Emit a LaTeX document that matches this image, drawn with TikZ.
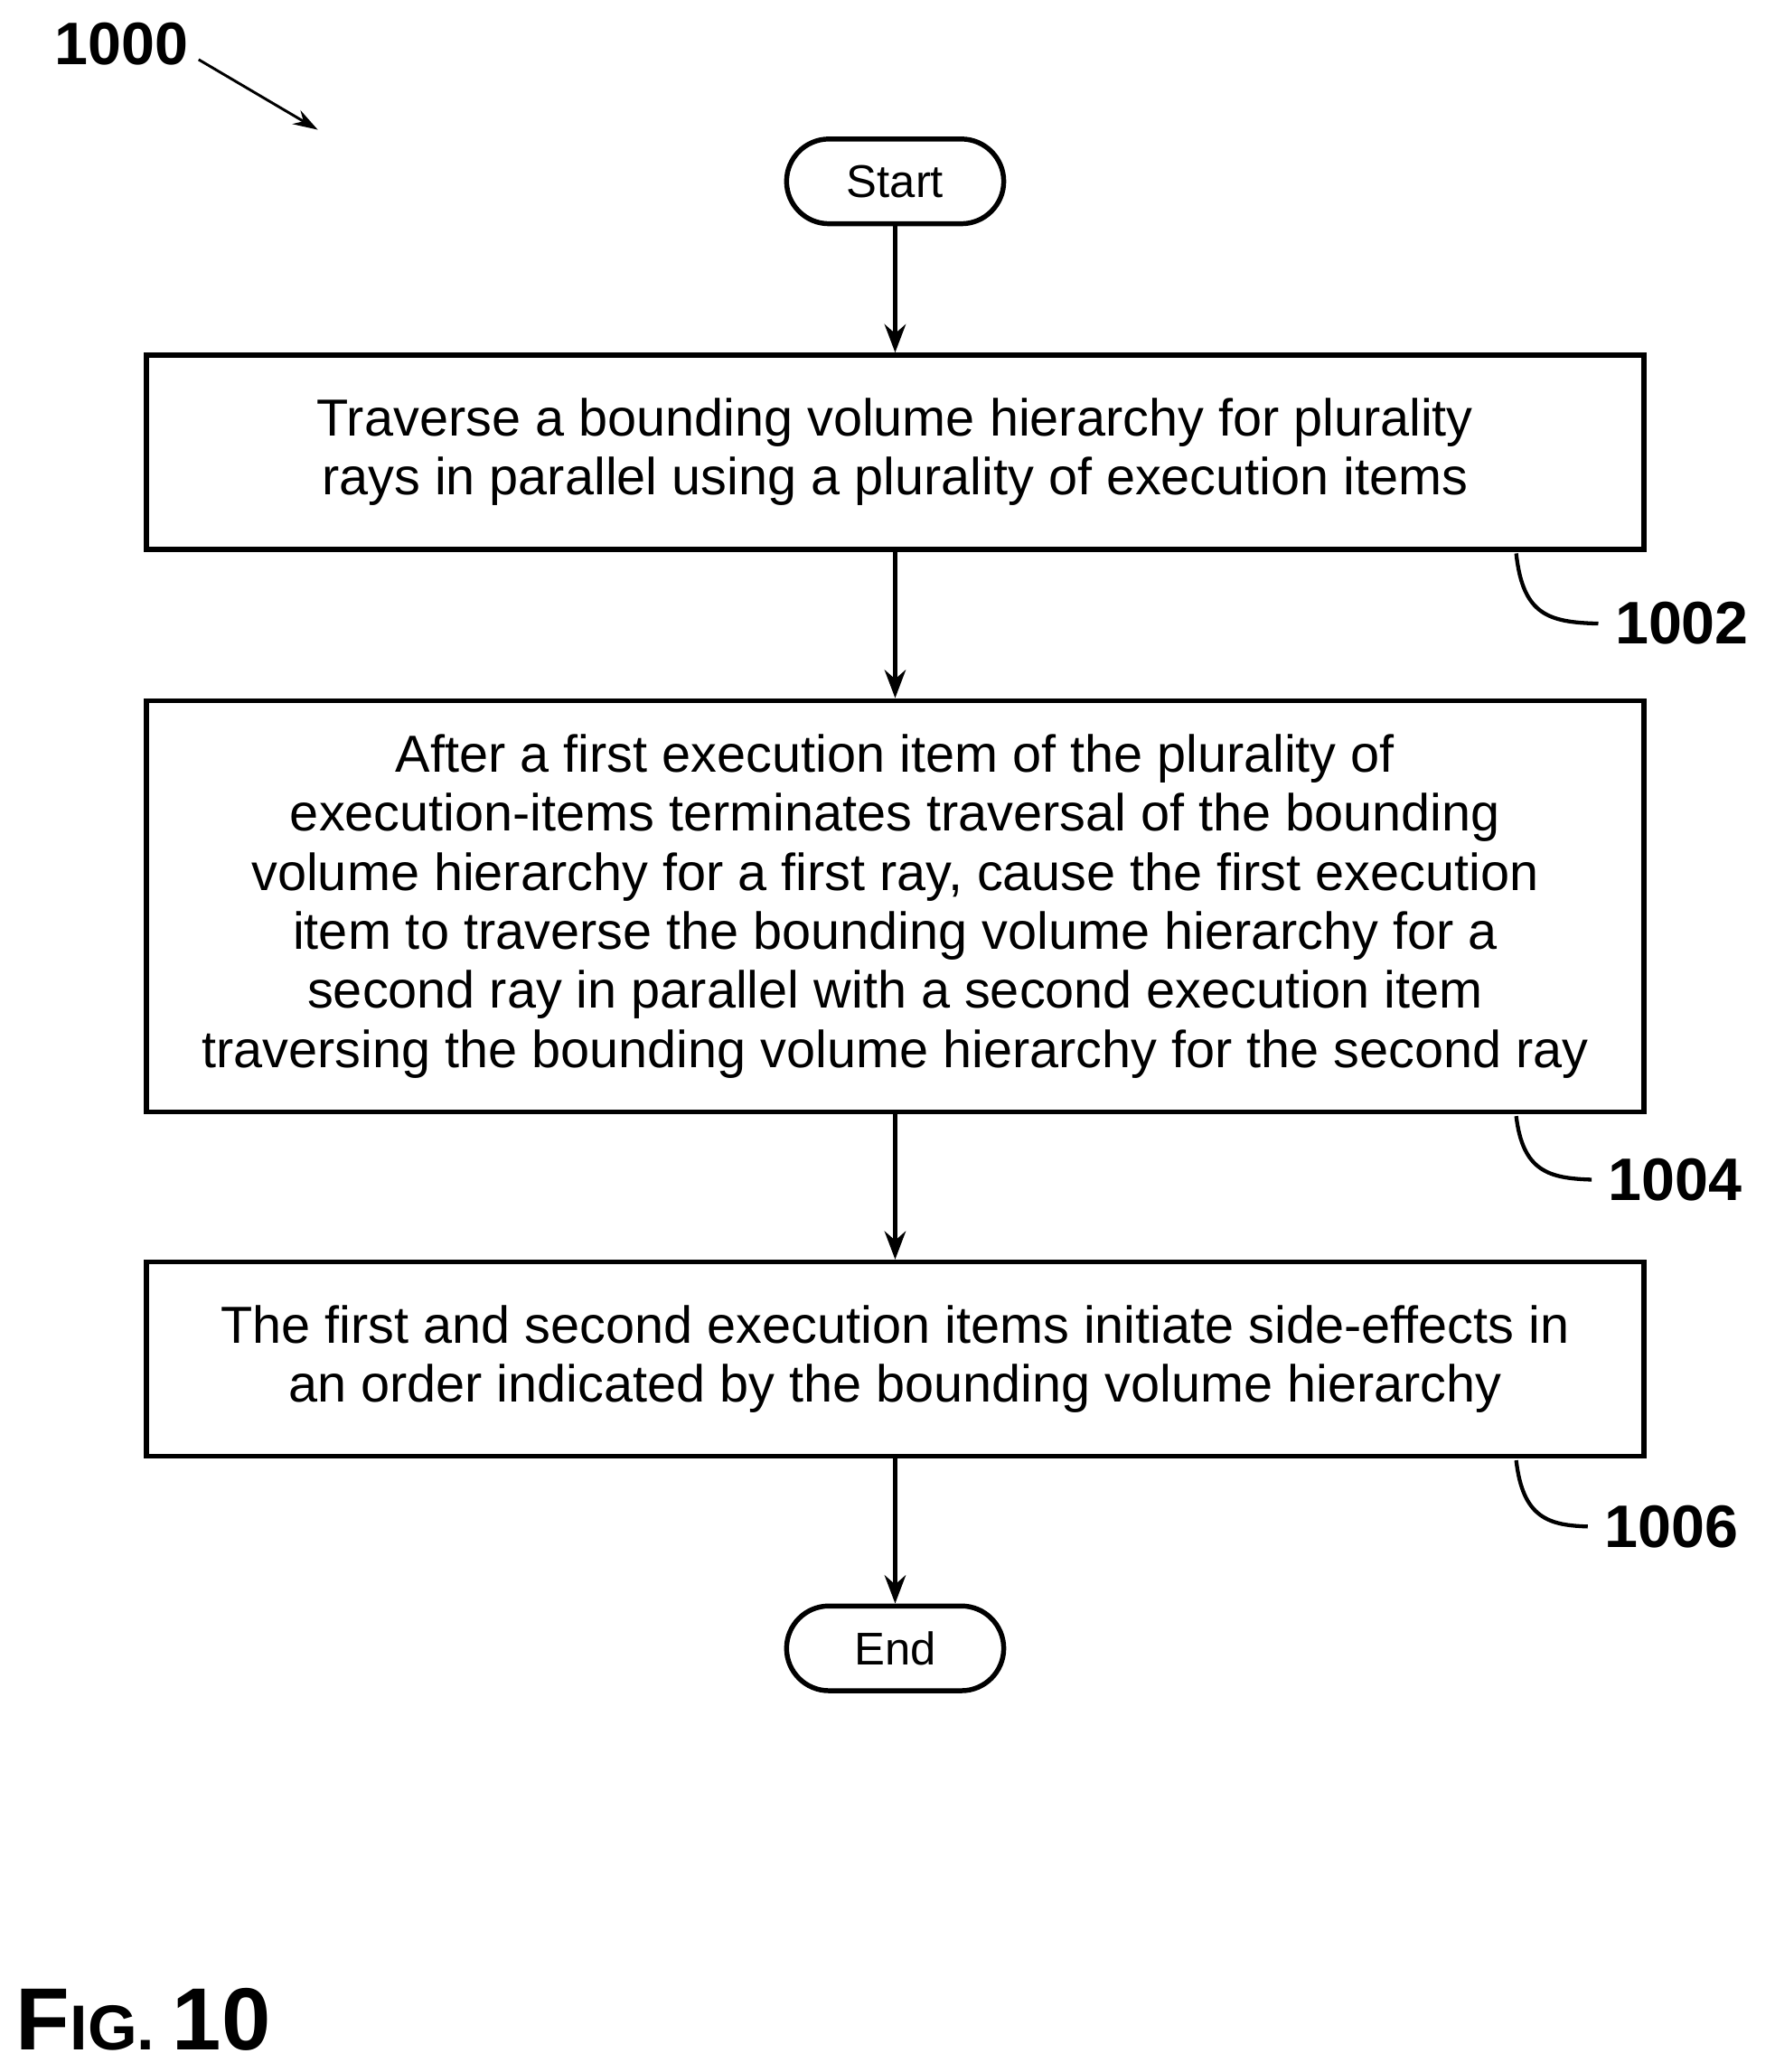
\documentclass[tikz,border=0pt]{standalone}
\usepackage{fontspec}
\setmainfont{Liberation Sans}
\usetikzlibrary{arrows.meta}
\begin{document}
\begin{tikzpicture}[x=0.75pt,y=-0.75pt,
 box/.style={draw,line width=2.8pt,minimum width=848pt,align=center,font=\fontsize{29.5}{33.5}\selectfont,inner sep=0pt},
 term/.style={draw,line width=2.8pt,rounded corners=24pt,minimum width=123pt,minimum height=48pt,font=\fontsize{26}{30}\selectfont,inner sep=0pt},
 arr/.style={line width=2.4pt,-{Stealth[length=16pt,width=12pt]}},
 ref/.style={font=\bfseries\fontsize{34}{36}\selectfont},
 hook/.style={line width=2.2pt}]
\useasboundingbox (0,0) rectangle (1340,1565);
\node[term] (start) at (676,137) {Start};
\node[box,minimum height=110pt] (b1) at (676,341.5) {Traverse a bounding volume hierarchy for plurality\\rays in parallel using a plurality of execution items};
\node[box,minimum height=233pt] (b2) at (676,684.5) {After a first execution item of the plurality of\\execution-items terminates traversal of the bounding\\volume hierarchy for a first ray, cause the first execution\\item to traverse the bounding volume hierarchy for a\\second ray in parallel with a second execution item\\traversing the bounding volume hierarchy for the second ray};
\node[box,minimum height=110pt] (b3) at (676,1026.5) {The first and second execution items initiate side-effects in\\an order indicated by the bounding volume hierarchy};
\node[term] (end) at (676,1245) {End};
\draw[arr] (start) -- (b1);
\draw[arr] (b1) -- (b2);
\draw[arr] (b2) -- (b3);
\draw[arr] (b3) -- (end);
\node[ref,anchor=west] (l1) at (1215,471) {1002};
\node[ref,anchor=west] (l2) at (1210,891) {1004};
\node[ref,anchor=west] (l3) at (1207,1153) {1006};
\coordinate (h1) at (1145,418); \coordinate (h2) at (1145,843); \coordinate (h3) at (1145,1103);
\draw[hook] (h1) .. controls (1150,465) and (1170,470) .. ([xshift=-6pt]l1.west);
\draw[hook] (h2) .. controls (1150,885) and (1170,890) .. ([xshift=-6pt]l2.west);
\draw[hook] (h3) .. controls (1150,1147) and (1170,1152) .. ([xshift=-6pt]l3.west);
\node[ref] (l0) at (92,33) {1000};
\coordinate (a0) at (240,98);
\draw[line width=1.5pt,-{Stealth[length=14pt,width=9pt]}] (150,45) -- (a0);
\node[font=\bfseries\fontsize{50}{56}\selectfont,anchor=west,inner sep=0pt] (fig) at (12,1525) {F\fontsize{36}{40}\selectfont IG. \fontsize{50}{56}\selectfont 10};
\end{tikzpicture}
\end{document}
